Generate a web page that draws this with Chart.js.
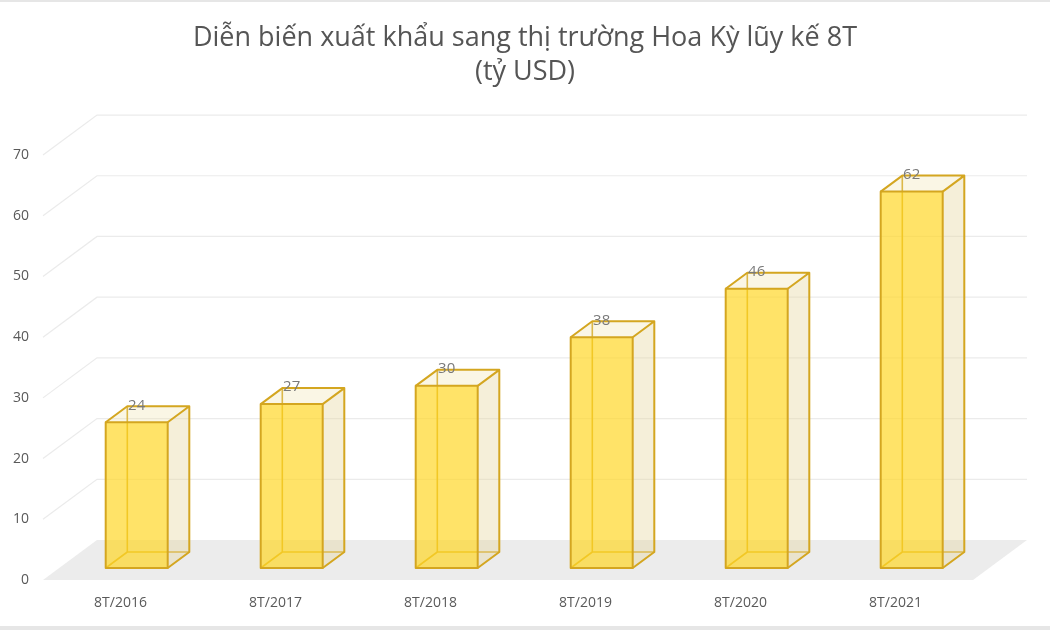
<!DOCTYPE html>
<html>
<head>
<meta charset="utf-8">
<script src="https://cdn.jsdelivr.net/npm/chart.js@4"></script>
<style>
  html, body { margin: 0; padding: 0; background: #fff; }
  #wrap { width: 1050px; height: 630px; }
</style>
</head>
<body>
<div id="wrap"><canvas id="chart" width="1050" height="630"></canvas></div>
<script>
const categories = ['8T/2016', '8T/2017', '8T/2018', '8T/2019', '8T/2020', '8T/2021'];
const exportValues = [24, 27, 30, 38, 46, 62];
const yTicks = [0, 10, 20, 30, 40, 50, 60, 70];
const titleLines = ['Diễn biến xuất khẩu sang thị trường Hoa Kỳ lũy kế 8T', '(tỷ USD)'];

// depth of the 3d box: full floor depth and the slice the bars sit in
const depth = { dx: 54, dy: -40 };
const barFront = 0.3, barBack = 0.7;

const frame = {
  id: 'frame',
  beforeDraw(chart) {
    const { ctx, width, height } = chart;
    ctx.save();
    ctx.fillStyle = '#fff';
    ctx.fillRect(0, 0, width, height);
    ctx.fillStyle = '#e6e6e6';
    ctx.fillRect(0, 0, width, 2);
    ctx.fillRect(0, height - 4, width, 4);
    ctx.restore();
  }
};

const walls = {
  id: 'walls',
  beforeDatasetsDraw(chart) {
    const { ctx, chartArea: a, scales: { y } } = chart;
    ctx.save();
    // floor
    ctx.fillStyle = '#ececec';
    ctx.beginPath();
    ctx.moveTo(a.left, a.bottom);
    ctx.lineTo(a.right, a.bottom);
    ctx.lineTo(a.right + depth.dx, a.bottom + depth.dy);
    ctx.lineTo(a.left + depth.dx, a.bottom + depth.dy);
    ctx.closePath();
    ctx.fill();
    // grid on back and side wall
    ctx.strokeStyle = '#ebebeb';
    ctx.lineWidth = 1.2;
    yTicks.forEach(v => {
      if (v === 0) return;
      const py = y.getPixelForValue(v);
      ctx.beginPath();
      ctx.moveTo(a.left, py);
      ctx.lineTo(a.left + depth.dx, py + depth.dy);
      ctx.lineTo(a.right + depth.dx, py + depth.dy);
      ctx.stroke();
    });
    ctx.restore();
  }
};

const boxes = {
  id: 'boxes',
  afterDatasetsDraw(chart) {
    const { ctx } = chart;
    const meta = chart.getDatasetMeta(0);
    const fx = depth.dx * barFront, fy = depth.dy * barFront;
    const bx = depth.dx * (barBack - barFront), by = depth.dy * (barBack - barFront);
    ctx.save();
    ctx.lineJoin = 'round';
    meta.data.forEach((el, i) => {
      const x1 = el.x - el.width / 2 + fx, x2 = el.x + el.width / 2 + fx;
      const yt = el.y + fy, yb = el.base + fy;
      const edge = '#d4a620';
      // hidden edges, seen through the front
      ctx.strokeStyle = edge;
      ctx.lineWidth = 1.6;
      ctx.beginPath();
      ctx.moveTo(x1, yb); ctx.lineTo(x1 + bx, yb + by);
      ctx.lineTo(x2 + bx, yb + by);
      ctx.moveTo(x1 + bx, yb + by); ctx.lineTo(x1 + bx, yt + by);
      ctx.stroke();
      // side face
      ctx.fillStyle = 'rgba(230,215,160,0.4)';
      ctx.beginPath();
      ctx.moveTo(x2, yt); ctx.lineTo(x2 + bx, yt + by);
      ctx.lineTo(x2 + bx, yb + by); ctx.lineTo(x2, yb);
      ctx.closePath(); ctx.fill();
      // top face
      ctx.fillStyle = 'rgba(240,225,170,0.3)';
      ctx.beginPath();
      ctx.moveTo(x1, yt); ctx.lineTo(x2, yt);
      ctx.lineTo(x2 + bx, yt + by); ctx.lineTo(x1 + bx, yt + by);
      ctx.closePath(); ctx.fill();
      // front face
      ctx.fillStyle = 'rgba(255,215,40,0.7)';
      ctx.fillRect(x1, yt, x2 - x1, yb - yt);
      // visible edges
      ctx.lineWidth = 2;
      ctx.strokeStyle = edge;
      ctx.strokeRect(x1, yt, x2 - x1, yb - yt);
      ctx.beginPath();
      ctx.moveTo(x1, yt); ctx.lineTo(x1 + bx, yt + by);
      ctx.lineTo(x2 + bx, yt + by); ctx.lineTo(x2, yt);
      ctx.moveTo(x2 + bx, yt + by); ctx.lineTo(x2 + bx, yb + by);
      ctx.lineTo(x2, yb);
      ctx.stroke();
      // value label
      ctx.fillStyle = '#7a7a7a';
      ctx.font = '15px "Open Sans"';
      ctx.textAlign = 'center';
      ctx.textBaseline = 'middle';
      ctx.fillText(String(exportValues[i]), (x1 + x2) / 2, yt - 17);
    });
    ctx.restore();
  }
};

new Chart(document.getElementById('chart'), {
  type: 'bar',
  data: {
    labels: categories,
    datasets: [{
      data: exportValues,
      backgroundColor: 'rgba(0,0,0,0)',
      borderWidth: 0,
      categoryPercentage: 1,
      barPercentage: 0.4
    }]
  },
  options: {
    responsive: false,
    animation: false,
    layout: { padding: 0 },
    plugins: {
      legend: { display: false },
      tooltip: { enabled: false },
      title: {
        display: true,
        text: titleLines,
        color: '#555555',
        font: { family: '"Open Sans"', size: 27, weight: 'normal', lineHeight: 1.26 },
        padding: { top: 21, bottom: 66 }
      }
    },
    scales: {
      x: {
        grid: { display: false, drawTicks: false },
        border: { display: false },
        ticks: { color: '#595959', font: { family: '"Open Sans"', size: 14 }, padding: 15 },
        afterFit: s => { s.height = 50; }
      },
      y: {
        min: 0, max: 70,
        grid: { display: false, drawTicks: false },
        border: { display: false },
        ticks: { stepSize: 10, color: '#595959', font: { family: '"Open Sans"', size: 14 }, padding: 14 },
        afterFit: s => { s.width = 43; }
      },
      // empty right gutter so the title centres on the whole canvas
      y2: {
        position: 'right',
        grid: { display: false, drawTicks: false },
        border: { display: false },
        ticks: { display: false },
        afterFit: s => { s.width = 77; }
      }
    }
  },
  plugins: [frame, walls, boxes]
});
</script>
</body>
</html>
